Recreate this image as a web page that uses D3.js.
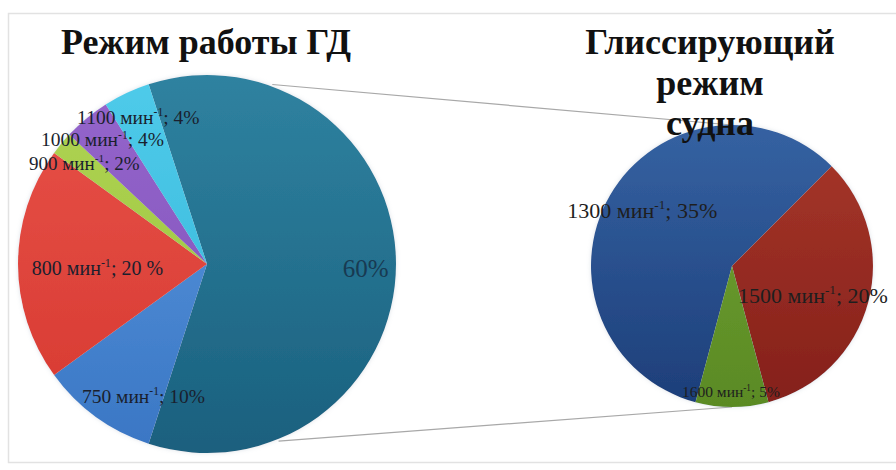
<!DOCTYPE html>
<html><head><meta charset="utf-8">
<script src="https://cdn.jsdelivr.net/npm/d3@7"></script>
<style>
html,body{margin:0;padding:0;background:#fff;}
svg{display:block;}
</style></head>
<body>
<svg id="chart" width="896" height="470"></svg>
<script>
// ---- data ----
const mainTitle = "Режим работы ГД";
const subTitleLines = ["Глиссирующий", "режим", "судна"];
const mainCategories = ["other", "750", "800", "900", "1000", "1100"];
const mainValues = [60, 10, 20, 2, 4, 4];
const mainPctText = ["60%", "10%", "20 %", "2%", "4%", "4%"];
const subCategories = ["1300", "1500", "1600"];
const subValues = [35, 20, 5];
const subPctText = ["35%", "20%", "5%"];
const unitText = "мин";
const unitSup = "-1";

// ---- styles / layout ----
const serif = "'Liberation Serif','DejaVu Serif','Times New Roman',serif";
const mainColors = [["#2f82a0","#1a607e"],["#5b9ae0","#3a76c4"],["#e8524a","#d6382f"],["#b0d454","#98c23c"],["#9566cc","#7f4fb8"],["#4fcbea","#32b4d8"]];
const subColors = [["#3562a2","#1d3e79"],["#a8372a","#84201a"],["#74a434","#5a8a24"]];
const mainLayout = [{a:91.5,r:0.84,fs:25},{a:205.7,r:0.775,fs:19.5},{a:268,r:0.58,fs:20},{a:309.4,r:0.84,fs:19},{a:320,r:0.86,fs:19.5},{a:335,r:0.86,fs:19.5}];
const subLayout = [{a:302,r:0.75,fs:22},{a:109.7,r:0.61,fs:22},{a:180.5,r:0.89,fs:15.5}];

const svg = d3.select("#chart");
const W = 896, H = 470;
const defs = svg.append("defs");

// chart area border
svg.append("rect").attr("x",8.5).attr("y",13.5).attr("width",W).attr("height",449)
  .attr("fill","#fff").attr("stroke","#e2e2e2").attr("stroke-width",1.5);

const main = {cx:207, cy:264, r:189};
const sub = {cx:732, cy:266, r:141};

const deg = Math.PI/180;
const otherFrac = mainValues[0] / d3.sum(mainValues);
const mainStart = Math.PI/2 - otherFrac*Math.PI;
const subStart = 195*deg;

const pieMain = d3.pie().sort(null).value(d=>d).startAngle(mainStart).endAngle(mainStart+2*Math.PI);
const pieSub = d3.pie().sort(null).value(d=>d).startAngle(subStart).endAngle(subStart+2*Math.PI);
const arcsMain = pieMain(mainValues);
const arcsSub = pieSub(subValues);

// soft glow filter
const f = defs.append("filter").attr("id","glow").attr("x","-10%").attr("y","-10%").attr("width","120%").attr("height","120%");
f.append("feGaussianBlur").attr("in","SourceAlpha").attr("stdDeviation",2).attr("result","b");
f.append("feFlood").attr("flood-color","#9ab").attr("flood-opacity",0.35);
f.append("feComposite").attr("in2","b").attr("operator","in").attr("result","s");
const fm = f.append("feMerge"); fm.append("feMergeNode").attr("in","s"); fm.append("feMergeNode").attr("in","SourceGraphic");

function grad(id, c, p){
  const g = defs.append("linearGradient").attr("id",id).attr("gradientUnits","userSpaceOnUse")
    .attr("x1",0).attr("y1",-p.r).attr("x2",0).attr("y2",p.r);
  g.append("stop").attr("offset","0%").attr("stop-color",c[0]);
  g.append("stop").attr("offset","100%").attr("stop-color",c[1]);
}
mainColors.forEach((c,i)=>grad("gm"+i,c,main));
subColors.forEach((c,i)=>grad("gs"+i,c,sub));

// connector lines
const oth = arcsMain[0];
const pt = (p,a,rr)=>[p.cx + rr*Math.sin(a), p.cy - rr*Math.cos(a)];
const topStart = pt(main, oth.startAngle + 38*deg, main.r+2);
const botStart = pt(main, oth.endAngle - 40*deg, main.r+2);
const line = d3.line();
svg.append("path").attr("d", line([topStart,[sub.cx, sub.cy-sub.r]])).attr("stroke","#a8a8a8").attr("stroke-width",1.2).attr("fill","none");
svg.append("path").attr("d", line([botStart,[sub.cx, sub.cy+sub.r]])).attr("stroke","#a8a8a8").attr("stroke-width",1.2).attr("fill","none");

const arcMain = d3.arc().innerRadius(0).outerRadius(main.r);
const arcSub = d3.arc().innerRadius(0).outerRadius(sub.r);

const gMain = svg.append("g").attr("transform",`translate(${main.cx},${main.cy})`).attr("filter","url(#glow)");
gMain.selectAll("path").data(arcsMain).join("path").attr("d",arcMain)
  .attr("fill",(d,i)=>`url(#gm${i})`);

const gSub = svg.append("g").attr("transform",`translate(${sub.cx},${sub.cy})`).attr("filter","url(#glow)");
gSub.selectAll("path").data(arcsSub).join("path").attr("d",arcSub)
  .attr("fill",(d,i)=>`url(#gs${i})`);

// labels
function addLabel(g, p, lay, text1, pct, color){
  const a = lay.a*deg, rr = lay.r*p.r;
  const x = rr*Math.sin(a), y = -rr*Math.cos(a);
  const t = g.append("text").attr("x",x).attr("y",y).attr("dy","0.35em")
    .attr("text-anchor","middle").attr("font-family",serif)
    .attr("font-size",lay.fs).attr("fill",color);
  if(text1){
    t.append("tspan").text(text1 + " " + unitText);
    t.append("tspan").attr("dy",-lay.fs*0.4).attr("font-size",lay.fs*0.6).text(unitSup);
    t.append("tspan").attr("dy",lay.fs*0.4).text("; " + pct);
  } else {
    t.text(pct);
  }
}
const gMainL = svg.append("g").attr("transform",`translate(${main.cx},${main.cy})`);
arcsMain.forEach((d,i)=>addLabel(gMainL, main, mainLayout[i], i===0?"":mainCategories[i], mainPctText[i], i===0?"#183a52":"#1a1f2e"));
const gSubL = svg.append("g").attr("transform",`translate(${sub.cx},${sub.cy})`);
arcsSub.forEach((d,i)=>addLabel(gSubL, sub, subLayout[i], subCategories[i], subPctText[i], "#1e1e1e"));

// titles
svg.append("text").attr("x",206).attr("y",54).attr("text-anchor","middle")
  .attr("font-family",serif).attr("font-weight","bold")
  .attr("font-size",36).attr("fill","#111").text(mainTitle);
const st = svg.append("text").attr("x",710).attr("y",54).attr("text-anchor","middle")
  .attr("font-family",serif).attr("font-weight","bold")
  .attr("font-size",36).attr("fill","#111");
subTitleLines.forEach((s,i)=>st.append("tspan").attr("x",710).attr("dy", i===0?0:40.5).text(s));
</script>
</body></html>
